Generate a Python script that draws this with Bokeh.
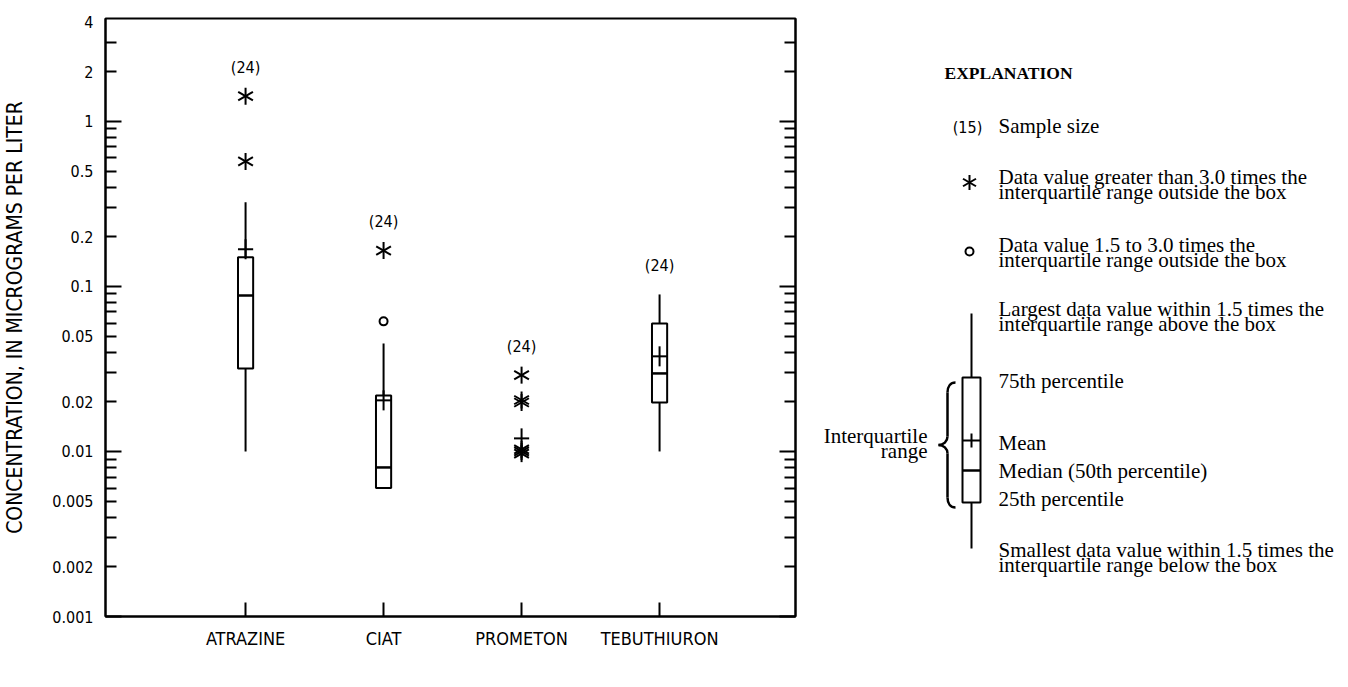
from bokeh.plotting import figure
from bokeh.models import Range1d, FixedTicker, LogAxis, LinearAxis
from bokeh.layouts import row
from bokeh.embed import file_html
from bokeh.resources import INLINE
from bokeh.core.properties import value
import math

# ---------------- data ----------------
categories = ["ATRAZINE", "CIAT", "PROMETON", "TEBUTHIURON"]
sample_size = [24, 24, 24, 24]
whisker_low = [0.010, 0.0060, None, 0.010]
q1 = [0.0318, 0.0060, None, 0.0198]
median = [0.088, 0.0080, None, 0.0297]
q3 = [0.150, 0.0218, None, 0.0597]
whisker_high = [0.323, 0.0451, None, 0.0894]
mean = [0.168, 0.0204, 0.0120, 0.0377]
far_outliers = [[1.42, 0.572], [0.165], [0.029, 0.0205, 0.0198, 0.0103, 0.0100, 0.0097], []]
near_outliers = [[], [0.0614], [], []]

y_tick_values = [0.001, 0.002, 0.005, 0.01, 0.02, 0.05, 0.1, 0.2, 0.5, 1, 2, 4]
y_tick_labels = ["0.001", "0.002", "0.005", "0.01", "0.02", "0.05", "0.1", "0.2", "0.5", "1", "2", "4"]
y_decade_ticks = [0.001, 0.01, 0.1, 1]
y_minor_ticks = [round(k * d, 6) for d in [0.001, 0.01, 0.1] for k in range(2, 10)] + [2, 3]

# ---------------- styles ----------------
SANS = "Liberation Sans Narrow, DejaVu Sans Condensed, sans-serif"
SERIF = "Liberation Serif"
BOX_W = 0.11
CROSS_F = 1.15
TOP_B, BOT_B = 18, 71

xs = [i + 1 for i in range(len(categories))]

p = figure(width=800, height=687, x_range=Range1d(-0.015, 4.985), y_range=Range1d(0.001, 4.2),
           y_axis_type="log", x_axis_location=None, y_axis_location=None,
           toolbar_location=None, output_backend="svg",
           min_border_left=105, min_border_right=5, min_border_top=TOP_B, min_border_bottom=BOT_B)
p.outline_line_color = "black"
p.outline_line_width = 2
p.background_fill_color = "white"
p.border_fill_color = "white"
p.grid.visible = False

def tick_axis(cls):
    ax = cls(ticker=FixedTicker(ticks=y_decade_ticks, minor_ticks=y_minor_ticks))
    ax.major_tick_in = 16
    ax.major_tick_out = 0
    ax.minor_tick_in = 11
    ax.minor_tick_out = 0
    ax.major_tick_line_width = 2
    ax.minor_tick_line_width = 2
    ax.axis_line_width = 2
    ax.major_label_text_font_size = "0px"
    ax.major_label_overrides = {v: "" for v in y_decade_ticks}
    ax.major_label_standoff = 0
    return ax

p.add_layout(tick_axis(LogAxis), "left")

lab_ax = LogAxis(ticker=FixedTicker(ticks=y_tick_values, minor_ticks=[]))
lab_ax.major_tick_in = 0
lab_ax.major_tick_out = 0
lab_ax.axis_line_color = None
lab_ax.major_label_overrides = {v: s for v, s in zip(y_tick_values, y_tick_labels)}
lab_ax.major_label_text_font = SANS
lab_ax.major_label_text_font_size = "16px"
lab_ax.major_label_text_color = "black"
lab_ax.major_label_standoff = 12
lab_ax.axis_label = "CONCENTRATION, IN MICROGRAMS PER LITER"
lab_ax.axis_label_text_font = SANS
lab_ax.axis_label_text_font_size = "21px"
lab_ax.axis_label_text_font_style = "normal"
lab_ax.axis_label_text_line_height = 1.0
lab_ax.axis_label_text_color = "black"
lab_ax.axis_label_standoff = 22
p.add_layout(lab_ax, "left")

p.add_layout(tick_axis(LogAxis), "right")

xax = LinearAxis(ticker=FixedTicker(ticks=xs, minor_ticks=[]))
xax.major_label_overrides = {x: c for x, c in zip(xs, categories)}
xax.major_tick_in = 14
xax.major_tick_out = 0
xax.major_tick_line_width = 2
xax.axis_line_width = 2
xax.major_label_text_font = SANS
xax.major_label_text_font_size = "18px"
xax.major_label_text_color = "black"
xax.major_label_standoff = 11
p.add_layout(xax, "below")

# boxes
bx = [x for x, a in zip(xs, q1) if a is not None]
bq1 = [a for a in q1 if a is not None]
bq3 = [a for a in q3 if a is not None]
bmed = [a for a in median if a is not None]
bwl = [a for a in whisker_low if a is not None]
bwh = [a for a in whisker_high if a is not None]

p.segment(x0=bx, y0=bq3, x1=bx, y1=bwh, line_color="black", line_width=2)
p.segment(x0=bx, y0=bwl, x1=bx, y1=bq1, line_color="black", line_width=2)
p.vbar(x=bx, width=BOX_W, bottom=bq1, top=bq3, fill_color="white", line_color="black", line_width=2)
p.segment(x0=[x - BOX_W / 2 for x in bx], y0=bmed, x1=[x + BOX_W / 2 for x in bx], y1=bmed,
          line_color="black", line_width=2.5)

# mean crosses
p.segment(x0=[x - BOX_W / 2 for x in xs], y0=mean, x1=[x + BOX_W / 2 for x in xs], y1=mean,
          line_color="black", line_width=2)
p.segment(x0=xs, y0=[m * CROSS_F for m in mean], x1=xs, y1=[m / CROSS_F for m in mean],
          line_color="black", line_width=2)

# outliers
fx = [x for x, vals in zip(xs, far_outliers) for _ in vals]
fy = [v for vals in far_outliers for v in vals]
for ang in (90, 30, -30):
    p.scatter(x=fx, y=fy, marker="dash", size=17, angle=math.radians(ang),
              line_color="black", line_width=2)
nx = [x for x, vals in zip(xs, near_outliers) for _ in vals]
ny = [v for vals in near_outliers for v in vals]
p.scatter(x=nx, y=ny, marker="circle", size=8, fill_color="white", line_color="black", line_width=2)

# sample sizes
tops = []
for i in range(len(categories)):
    cand = [v for v in [whisker_high[i], q3[i], mean[i]] if v is not None] + far_outliers[i] + near_outliers[i]
    tops.append(max(cand))
p.text(x=xs, y=tops, text=[f"({n})" for n in sample_size], y_offset=-29,
       text_align="center", text_baseline="middle", text_font=value(SANS),
       text_font_size="16px", text_color="black")

# ---------------- explanation ----------------
ex = figure(width=548, height=687, x_range=Range1d(800, 1348), y_range=Range1d(687 - BOT_B, TOP_B),
            toolbar_location=None, output_backend="svg",
            min_border_left=0, min_border_right=0, min_border_top=TOP_B, min_border_bottom=BOT_B,
            x_axis_location=None, y_axis_location=None)
ex.outline_line_color = None
ex.grid.visible = False

TX = 998
FS = "21px"

def t(x, y, s, align="left", font=SERIF, size=FS, style="normal"):
    ex.text(x=[x], y=[y], text=[s], text_align=align, text_baseline="middle",
            text_font=value(font), text_font_size=size, text_font_style=style, text_color="black")

t(944, 72, "EXPLANATION", size="17.5px", style="bold")
t(967, 127, "(15)", align="center", font=SANS, size="16px")
t(TX, 125, "Sample size")

for ang in (90, 30, -30):
    ex.scatter(x=[969], y=[182], marker="dash", size=15, angle=math.radians(ang),
               line_color="black", line_width=2)
t(TX, 176, "Data value greater than 3.0 times the")
t(TX, 191, "interquartile range outside the box")

ex.scatter(x=[969], y=[251], marker="circle", size=8, fill_color="white", line_color="black", line_width=2)
t(TX, 244, "Data value 1.5 to 3.0 times the")
t(TX, 259, "interquartile range outside the box")

t(TX, 308, "Largest data value within 1.5 times the")
t(TX, 323, "interquartile range above the box")
t(TX, 380, "75th percentile")
t(TX, 442, "Mean")
t(TX, 470, "Median (50th percentile)")
t(TX, 498, "25th percentile")
t(TX, 549, "Smallest data value within 1.5 times the")
t(TX, 564, "interquartile range below the box")

# schematic box
ex.segment(x0=[971, 971], y0=[313, 502], x1=[971, 971], y1=[377, 548], line_color="black", line_width=2)
ex.quad(left=[962], right=[980], top=[377], bottom=[502], fill_color="white", line_color="black", line_width=2)
ex.segment(x0=[962], y0=[470], x1=[980], y1=[470], line_color="black", line_width=2.5)
ex.segment(x0=[962, 971], y0=[440, 433], x1=[980, 971], y1=[440, 447], line_color="black", line_width=2)

# brace
ex.bezier(x0=[955, 947, 938, 947], y0=[382, 436, 444.5, 497],
          x1=[947, 938, 947, 955], y1=[392, 444.5, 453, 507],
          cx0=[950, 947, 943, 947], cy0=[382, 441, 444.5, 503],
          cx1=[947, 943, 947, 950], cy1=[386, 444.5, 448, 507],
          line_color="black", line_width=2.5)
ex.segment(x0=[947, 947], y0=[392, 453], x1=[947, 947], y1=[436, 497], line_color="black", line_width=2.5)
t(927, 435, "Interquartile", align="right")
t(927, 450, "range", align="right")

layout = row(p, ex)
open("out.html", "w").write(file_html(layout, INLINE))
